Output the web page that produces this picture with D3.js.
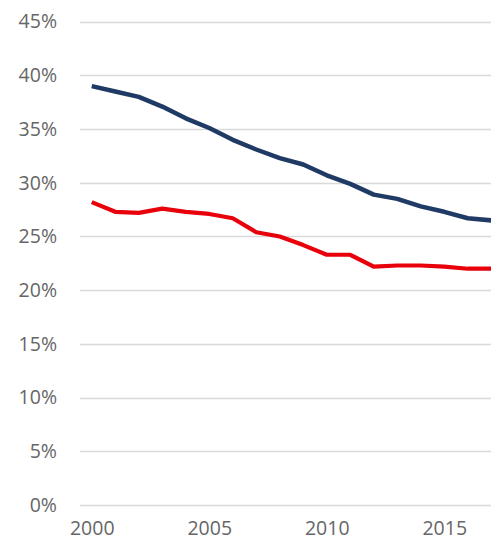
<!DOCTYPE html>
<html>
<head>
<meta charset="utf-8">
<script src="https://cdn.jsdelivr.net/npm/d3@7"></script>
<style>
  body { margin: 0; background: #fff; }
  svg { display: block; }
  .grid line { stroke: #d9d9d9; stroke-width: 1.3; }
  .tick text { fill: #666; font-size: 19.5px; font-family: "Open Sans", "Noto Sans", sans-serif; }
</style>
</head>
<body>
<svg width="491" height="543"></svg>
<script>
// data
const years = [2000, 2001, 2002, 2003, 2004, 2005, 2006, 2007, 2008, 2009,
               2010, 2011, 2012, 2013, 2014, 2015, 2016, 2017];
const navySeries = [39.0, 38.5, 38.0, 37.1, 36.0, 35.1, 34.0, 33.1, 32.3, 31.7,
                    30.7, 29.9, 28.9, 28.5, 27.8, 27.3, 26.7, 26.5];
const redSeries = [28.2, 27.3, 27.2, 27.6, 27.3, 27.1, 26.7, 25.4, 25.0, 24.2,
                   23.3, 23.3, 22.2, 22.3, 22.3, 22.2, 22.0, 22.0];
const yTicks = [0, 5, 10, 15, 20, 25, 30, 35, 40, 45];
const xTicks = [2000, 2005, 2010, 2015];

const svg = d3.select('svg');

// x: category axis, points sit in the middle of each slot
const x = d3.scalePoint()
  .domain(years)
  .range([80 + 23.5 / 2, 80 + 23.5 * 17.5])
  .padding(0);

const y = d3.scaleLinear().domain([0, 45]).range([505, 21.7]);

// gridlines
svg.append('g')
  .attr('class', 'grid')
  .selectAll('line')
  .data(yTicks)
  .enter()
  .append('line')
  .attr('x1', 80)
  .attr('x2', 491)
  .attr('y1', (d) => Math.round(y(d)) + 0.5)
  .attr('y2', (d) => Math.round(y(d)) + 0.5);

// y axis labels
const yAxis = svg.append('g')
  .attr('transform', 'translate(57,0)')
  .call(d3.axisLeft(y).tickValues(yTicks).tickSize(0).tickPadding(0).tickFormat((d) => d + '%'));
yAxis.select('.domain').remove();

// x axis labels (kept just inside the bottom edge)
const xAxis = svg.append('g')
  .attr('transform', 'translate(0,521)')
  .call(d3.axisBottom(x).tickValues(xTicks).tickSize(0).tickPadding(0));
xAxis.select('.domain').remove();

// lines
const line = d3.line()
  .x((d, i) => x(years[i]))
  .y((d) => y(d));

svg.append('path')
  .datum(redSeries)
  .attr('fill', 'none')
  .attr('stroke', '#e8000b')
  .attr('stroke-width', 4.2)
  .attr('stroke-linejoin', 'round')
  .attr('d', line);

svg.append('path')
  .datum(navySeries)
  .attr('fill', 'none')
  .attr('stroke', '#1f3a64')
  .attr('stroke-width', 4.5)
  .attr('stroke-linejoin', 'round')
  .attr('d', line);
</script>
</body>
</html>
